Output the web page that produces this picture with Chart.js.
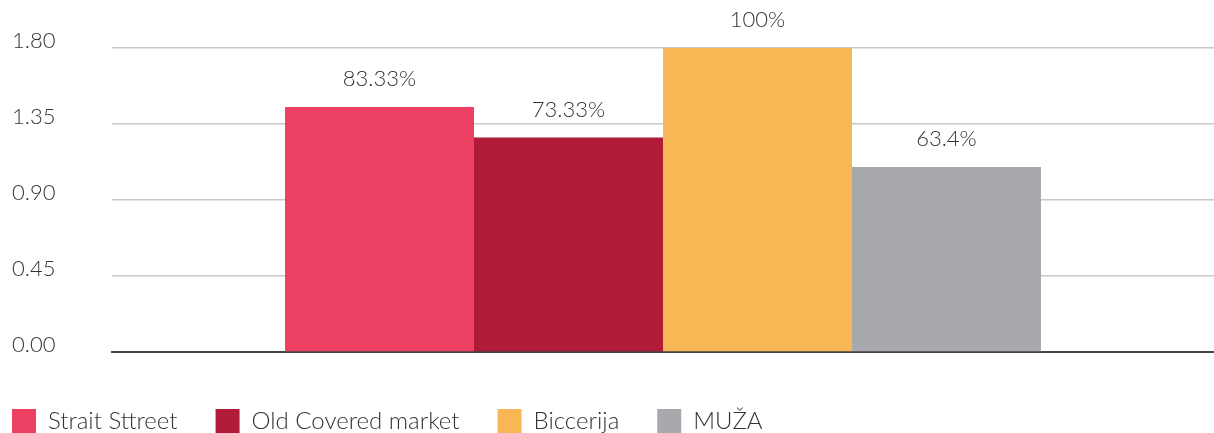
<!DOCTYPE html>
<html>
<head>
<meta charset="utf-8">
<script src="https://cdn.jsdelivr.net/npm/chart.js@4"></script>
<style>
  html, body { margin: 0; padding: 0; background: #fff; }
  #wrap { width: 1214px; height: 433px; }
</style>
</head>
<body>
<div id="wrap"><canvas id="bars"></canvas></div>
<script>
let places = ["Strait Sttreet", "Old Covered market", "Biccerija", "MUŽA"];
let scores = [1.45, 1.27, 1.80, 1.095];
let percentLabels = ["83.33%", "73.33%", "100%", "63.4%"];
let placeColors = ["#EE4062", "#B01B37", "#F7B755", "#A8A9AC"];
let yTicks = [0, 0.45, 0.9, 1.35, 1.8];

Chart.defaults.font.family = "Lato, 'Open Sans', sans-serif";
Chart.defaults.font.size = 22;
Chart.defaults.font.weight = 300;
Chart.defaults.color = '#333';

let legendGap = 38;

// draw the percent labels above each bar
let barLabels = {
    id: 'barLabels',
    afterDatasetsDraw(chart) {
        let ctx = chart.ctx;
        ctx.save();
        ctx.font = "300 22px Lato, 'Open Sans', sans-serif";
        ctx.fillStyle = '#333';
        ctx.textAlign = 'center';
        ctx.textBaseline = 'middle';
        chart.data.datasets.forEach((ds, i) => {
            let bar = chart.getDatasetMeta(i).data[0];
            ctx.fillText(percentLabels[i], bar.x, bar.y - 28);
        });
        ctx.restore();
    }
};

// fixed legend height, and pull it flush with the left edge
let legendTweak = {
    id: 'legendTweak',
    beforeInit(chart) {
        let origFit = chart.legend.fit;
        chart.legend.fit = function () {
            origFit.call(this);
            this.height = 62;
        };
        let origDraw = chart.legend.draw;
        chart.legend.draw = function () {
            chart.ctx.save();
            chart.ctx.translate(-legendGap, 0);
            origDraw.apply(this, arguments);
            chart.ctx.restore();
        };
    }
};

let datasets = places.map((name, i) => ({
    label: name,
    data: [scores[i]],
    backgroundColor: placeColors[i],
    borderWidth: 0
}));

new Chart(document.getElementById("bars").getContext("2d"), {
    type: 'bar',
    data: {
        labels: [""],
        datasets: datasets
    },
    plugins: [barLabels, legendTweak],
    options: {
        responsive: true,
        maintainAspectRatio: false,
        animation: false,
        layout: {
            padding: {top: 48, bottom: 0, left: 12, right: 0}
        },
        datasets: {
            bar: {
                categoryPercentage: 0.686,
                barPercentage: 1
            }
        },
        plugins: {
            legend: {
                position: 'bottom',
                align: 'start',
                labels: {
                    boxWidth: 24,
                    boxHeight: 25,
                    padding: legendGap,
                    color: '#333',
                    font: {size: 24, weight: 300}
                }
            },
            tooltip: {enabled: false}
        },
        scales: {
            x: {
                ticks: {display: false},
                grid: {display: false, drawTicks: false},
                border: {display: true, color: '#444', width: 2},
                afterFit: scale => { scale.height = 19; }
            },
            y: {
                min: 0,
                max: 1.8,
                afterBuildTicks: scale => {
                    scale.ticks = yTicks.map(v => ({value: v}));
                },
                afterFit: scale => { scale.width = 100; },
                ticks: {
                    crossAlign: 'far',
                    labelOffset: -7,
                    padding: 0,
                    color: '#333',
                    callback: v => Number(v).toFixed(2)
                },
                grid: {color: '#c8c8c8', lineWidth: 1.5, drawTicks: false},
                border: {display: false}
            }
        }
    }
});
</script>
</body>
</html>
